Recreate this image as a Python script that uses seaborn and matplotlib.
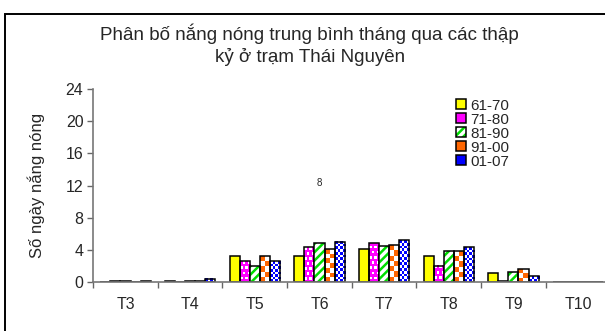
import numpy as np
import pandas as pd
import matplotlib
matplotlib.use("Agg")
import matplotlib.pyplot as plt
from matplotlib.patches import Rectangle, Patch
import seaborn as sns

months = ["T3", "T4", "T5", "T6", "T7", "T8", "T9", "T10"]
decades = ["61-70", "71-80", "81-90", "91-00", "01-07"]
d_6170 = [0.0, 0.1, 3.2, 3.2, 4.1, 3.2, 1.1, 0.0]
d_7180 = [0.1, 0.0, 2.6, 4.3, 4.8, 2.0, 0.1, 0.0]
d_8190 = [0.1, 0.1, 2.0, 4.8, 4.5, 3.9, 1.3, 0.0]
d_9100 = [0.0, 0.1, 3.2, 4.1, 4.6, 3.8, 1.6, 0.0]
d_0107 = [0.1, 0.4, 2.6, 5.0, 5.2, 4.3, 0.7, 0.0]
y_ticks = [0, 4, 8, 12, 16, 20, 24]

series = [d_6170, d_7180, d_8190, d_9100, d_0107]
df = pd.DataFrame({
    "month": [m for _ in decades for m in months],
    "decade": [d for d in decades for _ in months],
    "days": [v for s in series for v in s],
})

sns.set_theme(style="white")
plt.rcParams["font.family"] = ["Liberation Sans", "DejaVu Sans"]
plt.rcParams["hatch.linewidth"] = 1.8

GREEN = "#00dd00"

fig = plt.figure(figsize=(6.05, 3.31), dpi=100)
ax = fig.add_axes([0.154, 0.148, 0.855, 0.583])

face = {"61-70": "#ffff00", "71-80": "#ff00ff", "81-90": "#ffffff",
        "91-00": "#ffffff", "01-07": "#ffffff"}
sns.barplot(data=df, x="month", y="days", hue="decade", order=months,
            hue_order=decades, palette=face, width=0.78, gap=0,
            edgecolor="black", linewidth=1.1, saturation=1, ax=ax,
            legend=False)


def set_hatch_color(patch, color):
    try:
        patch.set_hatchcolor(color)
    except AttributeError:
        pass
    patch._hatch_color = matplotlib.colors.to_rgba(color)


# pixel-sized pattern fills clipped to each bar
def fill_pattern(patch, colors, cell_px, kind):
    bb = patch.get_bbox()
    x0, x1, y0, y1 = bb.x0, bb.x1, bb.y0, bb.y1
    if y1 - y0 <= 0:
        return
    p0 = ax.transData.transform((x0, y0))
    p1 = ax.transData.transform((x1, y1))
    wpx, hpx = abs(p1[0] - p0[0]), abs(p1[1] - p0[1])
    nc = max(1, int(round(wpx / cell_px)))
    nr = max(1, int(round(hpx / cell_px)))
    ii, jj = np.indices((nr, nc))
    if kind == "checker":
        m = (ii + jj) % 2
    else:  # bricks
        m = ((ii % 2 == 1) & (jj % 2 == (ii // 2) % 2)).astype(int)
    rgb = np.array([matplotlib.colors.to_rgb(c) for c in colors])
    img = rgb[m]
    ax.imshow(img, extent=(x0, x1, y0, y1), origin="lower", aspect="auto",
              interpolation="nearest", zorder=patch.get_zorder() - 0.1)
    patch.set_facecolor("none")


ax.set_xlim(-0.5, len(months) - 0.5)
ax.set_ylim(0, 24)

for cont, dec in zip(ax.containers, decades):
    for p in cont:
        if dec == "71-80":
            fill_pattern(p, ["#ff00ff", "#ffffff"], 2.5, "bricks")
        elif dec == "81-90":
            p.set_hatch("////")
            set_hatch_color(p, GREEN)
        elif dec == "91-00":
            fill_pattern(p, ["#ff6600", "#ffffff"], 5, "checker")
        elif dec == "01-07":
            fill_pattern(p, ["#0000ff", "#ffffff"], 2.7, "checker")

ax.set_xlim(-0.5, len(months) - 0.5)
ax.set_ylim(0, 24)
ax.set_yticks(y_ticks)
ax.set_yticklabels([str(t) for t in y_ticks], fontsize=11.5)
ax.set_xticks(np.arange(len(months)))
ax.set_xticklabels(months, fontsize=11.5)
ax.tick_params(axis="x", length=0, pad=11)
ax.set_xticks(np.arange(len(months)) - 0.5, minor=True)
ax.tick_params(axis="x", which="minor", length=4, color="#666666",
               direction="out", bottom=True, width=1)
ax.tick_params(axis="y", length=4, color="#666666", direction="out",
               left=True, width=1, pad=3)
ax.set_xlabel("")
ax.set_ylabel("Số ngày nắng nóng", fontsize=12, labelpad=15)
for side in ["top", "right"]:
    ax.spines[side].set_visible(False)
for side in ["left", "bottom"]:
    ax.spines[side].set_color("#777777")
    ax.spines[side].set_linewidth(1.2)
ax.spines["bottom"].set_zorder(5)
ax.set_facecolor("white")
ax.grid(False)

ax.text(3, 12.3, "8", fontsize=7, ha="center", va="center")


# legend swatches
def swatch(dec):
    if dec == "81-90":
        p = Patch(facecolor="white", edgecolor="black", hatch="////",
                  linewidth=1.1)
        set_hatch_color(p, GREEN)
        return p
    colors = {"61-70": "#ffff00", "71-80": "#ff00ff", "91-00": "#ff6600",
              "01-07": "#0000ff"}
    return Patch(facecolor=colors[dec], edgecolor="black", linewidth=1.1)


leg = ax.legend([swatch(d) for d in decades], decades, loc="upper left",
                bbox_to_anchor=(0.686, 0.99), frameon=False, fontsize=11,
                handlelength=0.65, handleheight=0.65, handletextpad=0.3,
                labelspacing=0.0, borderpad=0)
for h in leg.legend_handles:
    if h.get_hatch():
        set_hatch_color(h, GREEN)

fig.text(0.512, 0.865,
         "Phân bố nắng nóng trung bình tháng qua các thập\nkỷ ở trạm Thái Nguyên",
         ha="center", va="center", fontsize=13.5, linespacing=1.25)

# outer chart frame
fig.patches.append(Rectangle((5 / 605, -0.1), 1.2, 0.1 + (331 - 14) / 331,
                             transform=fig.transFigure, fill=False,
                             edgecolor="black", linewidth=1.4))

fig.savefig("out.png", dpi=100, facecolor="white")
